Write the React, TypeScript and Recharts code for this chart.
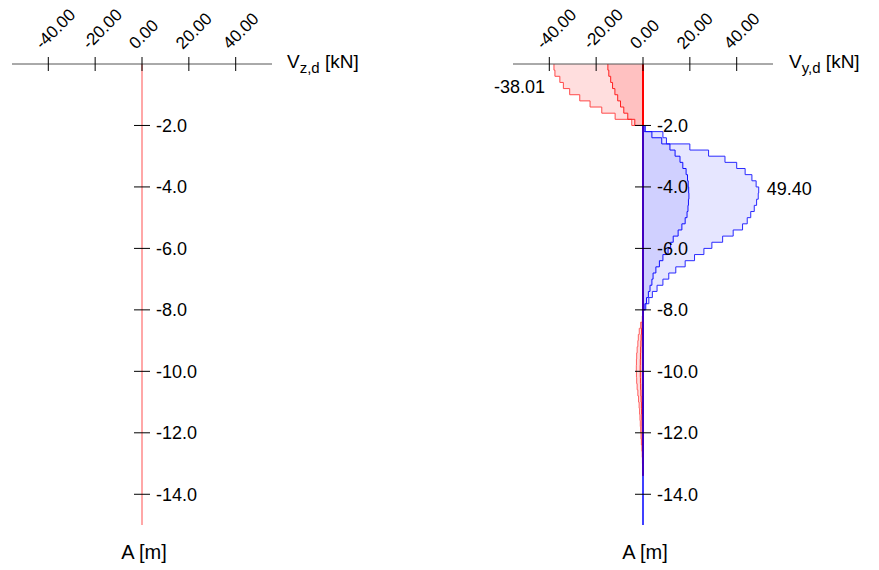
import { ComposedChart, Area, Line, XAxis, YAxis, ReferenceDot } from "recharts";

const FONT = "Arial, 'Liberation Sans', sans-serif";

// axes
const forceTicks = [-40, -20, 0, 20, 40];
const depthTicks = [-2, -4, -6, -8, -10, -12, -14];
const forceDomain = [-55.5, 55.5];
const depthDomain = [-15, 0];

// Vz,d: zero over the whole pile
const vzDepths = [0, -15];
const vzValues = [0, 0];

// Vy,d, top part (negative)
const topDepths = [0, -0.2, -0.4, -0.6, -0.8, -1.0, -1.2, -1.4, -1.6, -1.8, -2.0];
const vyMinOuterTop = [-38.01, -37.6, -35.5, -34, -31.3, -27, -22.6, -17.6, -11.9, -4.8, 0];
const vyMinInnerTop = [-15, -14.6, -13.8, -13, -12, -10.8, -9.6, -8.2, -6.5, -3.5, 0];

// Vy,d, middle part (positive)
const midDepths = [
  -2.0, -2.2, -2.4, -2.6, -2.8, -3.0, -3.2, -3.4, -3.6, -3.8, -4.0, -4.2, -4.4, -4.6, -4.8, -5.0,
  -5.2, -5.4, -5.6, -5.8, -6.0, -6.2, -6.4, -6.6, -6.8, -7.0, -7.2, -7.4, -7.6, -7.8, -8.0,
];
const vyMaxOuter = [
  1, 8.5, 10, 20, 28, 35, 40, 43.6, 46.5, 48.3, 49.4, 49.2, 48.5, 47.5, 46, 44.5,
  42.5, 38.5, 34, 29.4, 26, 22, 18, 14, 11, 8.5, 6, 4, 2.5, 1.2, 0,
];
const vyMaxInner = [
  0.5, 3.8, 8, 11.5, 13.7, 15.8, 17, 18.4, 19, 19.3, 19.5, 19.6, 19.4, 19.2, 18.8, 18,
  16.6, 15, 12.9, 11.8, 10.7, 8.5, 7, 5.5, 4.3, 3.8, 3, 2.3, 1.5, 0.8, 0,
];

// Vy,d, lower part (small negative)
const lowDepths = [
  -8.0, -8.2, -8.4, -8.6, -8.8, -9.0, -9.2, -9.4, -9.6, -9.8, -10.0, -10.2, -10.4, -10.6,
  -10.8, -11.0, -11.2, -11.4, -11.6, -11.8, -12.0, -12.2, -12.4, -12.6, -12.8, -13.0, -13.2, -13.4,
];
const vyMinOuterLow = [
  0, -0.3, -1.0, -1.6, -2.0, -2.2, -2.5, -2.7, -2.8, -2.85, -2.8, -2.7, -2.5, -2.2,
  -1.9, -1.65, -1.45, -1.3, -1.15, -1.0, -0.85, -0.7, -0.5, -0.35, -0.25, -0.15, -0.05, 0,
];
const vyMinInnerLow = [
  0, -0.1, -0.4, -0.6, -0.8, -0.9, -1.0, -1.1, -1.15, -1.2, -1.15, -1.1, -1.0, -0.9,
  -0.8, -0.7, -0.6, -0.5, -0.45, -0.4, -0.35, -0.3, -0.2, -0.15, -0.1, -0.06, -0.02, 0,
];

// toe
const bottomDepths = [-13.4, -15];

type Row = { depth: number; [k: string]: number };

function buildRows(segments: { depths: number[]; fields: Record<string, number[]> }[]) {
  const map = new Map<string, Row>();
  segments.forEach(({ depths, fields }) => {
    depths.forEach((d, i) => {
      const key = d.toFixed(1);
      const row = map.get(key) ?? { depth: d };
      Object.entries(fields).forEach(([name, vals]) => {
        row[name] = vals[i];
      });
      map.set(key, row);
    });
  });
  return [...map.values()].sort((a, b) => b.depth - a.depth);
}

const zeros = (n: number) => new Array(n).fill(0);

const vzRows = buildRows([{ depths: vzDepths, fields: { vz: vzValues } }]);

const vyRows = buildRows([
  {
    depths: topDepths,
    fields: { redOuter: vyMinOuterTop, redInner: vyMinInnerTop, baseRed: zeros(topDepths.length) },
  },
  {
    depths: midDepths,
    fields: { blueOuter: vyMaxOuter, blueInner: vyMaxInner, baseBlue: zeros(midDepths.length) },
  },
  {
    depths: lowDepths,
    fields: { redOuter2: vyMinOuterLow, redInner2: vyMinInnerLow, baseRed: zeros(lowDepths.length) },
  },
  { depths: bottomDepths, fields: { baseBlue: zeros(bottomDepths.length) } },
]);

const W = 420;
const H = 570;
const PLOT_W = 260;
const PLOT_TOP = 64;
const PLOT_BOTTOM = 525;

// axes take 1px each (an axis of size 0 is not drawn)
function marginFor(chartLeft: number, plotLeft: number) {
  const left = plotLeft - chartLeft - 1;
  return { top: PLOT_TOP - 1, bottom: H - PLOT_BOTTOM, left, right: W - left - 1 - PLOT_W };
}

function ForceTick(props: any) {
  const { x, payload } = props;
  return (
    <g>
      <line x1={x} x2={x} y1={PLOT_TOP - 7} y2={PLOT_TOP + 7} stroke="#000" />
      <text
        transform={`translate(${x - 6},${PLOT_TOP - 14}) rotate(-45)`}
        fontSize={17}
        fontFamily={FONT}
        fill="#000"
      >
        {payload.value.toFixed(2)}
      </text>
    </g>
  );
}

function makeDepthTick(cx: number) {
  return (props: any) => {
    const { y, payload } = props;
    return (
      <g>
        <line x1={cx - 8} x2={cx + 8} y1={y} y2={y} stroke="#000" />
        <text x={cx + 14} y={y} dy="0.35em" fontSize={18} fontFamily={FONT} fill="#000">
          {payload.value.toFixed(1)}
        </text>
      </g>
    );
  };
}

function Axes(cx: number) {
  return [
    <XAxis
      key="x"
      type="number"
      orientation="top"
      domain={forceDomain}
      ticks={forceTicks}
      height={1}
      axisLine={{ stroke: "#555" }}
      tickLine={false}
      tick={<ForceTick />}
      interval={0}
    />,
    <YAxis
      key="y"
      type="number"
      dataKey="depth"
      domain={depthDomain}
      ticks={depthTicks}
      width={1}
      reversed
      axisLine={false}
      tickLine={false}
      tick={makeDepthTick(cx)}
      interval={0}
    />,
  ];
}

// text beside the extreme value, placed through the chart scales
function extremeLabel(value: number, dx: number, dy: number, anchor: "start" | "end") {
  return (props: any) => {
    const vb = props.viewBox ?? {};
    const x = vb.x + (vb.width ?? 0) / 2;
    const y = vb.y + (vb.height ?? 0) / 2;
    return (
      <text x={x + dx} y={y + dy} dy="0.35em" textAnchor={anchor} fontSize={18} fontFamily={FONT} fill="#000">
        {value.toFixed(2)}
      </text>
    );
  };
}

function AxisTitle({ left, sub }: { left: number; sub: string }) {
  return (
    <div style={{ position: "absolute", left, top: 51, fontSize: 19, lineHeight: "22px", fontFamily: FONT, whiteSpace: "nowrap" }}>
      V<span style={{ fontSize: 15, position: "relative", top: 5 }}>{sub}</span> [kN]
    </div>
  );
}

function DepthTitle({ center }: { center: number }) {
  return (
    <div style={{ position: "absolute", left: center - 50, width: 100, top: 541, textAlign: "center", fontSize: 20, lineHeight: "23px", fontFamily: FONT }}>
      A [m]
    </div>
  );
}

const LEFT_CHART = 0;
const RIGHT_CHART = 440;
const leftMargin = marginFor(LEFT_CHART, 12);
const rightMargin = marginFor(RIGHT_CHART, 513);
const leftCx = leftMargin.left + 1 + PLOT_W / 2;
const rightCx = rightMargin.left + 1 + PLOT_W / 2;

const peak = Math.max(...vyMaxOuter);
const peakDepth = midDepths[vyMaxOuter.indexOf(peak)];
const trough = Math.min(...vyMinOuterTop);
const troughDepth = topDepths[vyMinOuterTop.indexOf(trough)];

export default function App() {
  return (
    <div style={{ position: "absolute", left: 0, top: 0, width: 879, height: 570, background: "#fff" }}>
      <div style={{ position: "absolute", left: LEFT_CHART, top: 0 }}>
        <ComposedChart width={W} height={H} data={vzRows} layout="vertical" margin={leftMargin}>
          {Axes(leftCx)}
          <Line dataKey="vz" type="linear" stroke="#ff5050" strokeWidth={1} dot={false} activeDot={false} isAnimationActive={false} />
        </ComposedChart>
      </div>
      <div style={{ position: "absolute", left: RIGHT_CHART, top: 0 }}>
        <ComposedChart width={W} height={H} data={vyRows} layout="vertical" margin={rightMargin}>
          {Axes(rightCx)}
          <Area dataKey="redOuter" type="stepBefore" baseValue={0} stroke="#ff4a4a" fill="#ff0000" fillOpacity={0.13} dot={false} activeDot={false} isAnimationActive={false} />
          <Area dataKey="redInner" type="stepBefore" baseValue={0} stroke="#ff2020" fill="#ff0000" fillOpacity={0.13} dot={false} activeDot={false} isAnimationActive={false} />
          <Area dataKey="blueOuter" type="stepBefore" baseValue={0} stroke="#2a2aff" fill="#3030ff" fillOpacity={0.12} dot={false} activeDot={false} isAnimationActive={false} />
          <Area dataKey="blueInner" type="stepBefore" baseValue={0} stroke="#1010ff" fill="#3030ff" fillOpacity={0.12} dot={false} activeDot={false} isAnimationActive={false} />
          <Area dataKey="redOuter2" type="stepBefore" baseValue={0} stroke="#ff6060" fill="#ff0000" fillOpacity={0.13} dot={false} activeDot={false} isAnimationActive={false} />
          <Area dataKey="redInner2" type="stepBefore" baseValue={0} stroke="#ff2020" fill="#ff0000" fillOpacity={0.13} dot={false} activeDot={false} isAnimationActive={false} />
          <Line dataKey="baseRed" type="linear" stroke="#ff0000" strokeWidth={2} dot={false} activeDot={false} isAnimationActive={false} />
          <Line dataKey="baseBlue" type="linear" stroke="#0000ff" strokeWidth={1.5} dot={false} activeDot={false} isAnimationActive={false} />
          <ReferenceDot x={trough} y={troughDepth} r={1} fill="none" stroke="none" ifOverflow="visible"
            label={extremeLabel(trough, -9, 23, "end")} />
          <ReferenceDot x={peak} y={peakDepth} r={1} fill="none" stroke="none" ifOverflow="visible"
            label={extremeLabel(peak, 8, 2, "start")} />
        </ComposedChart>
      </div>
      <AxisTitle left={287} sub="z,d" />
      <AxisTitle left={789} sub="y,d" />
      <DepthTitle center={144} />
      <DepthTitle center={645} />
    </div>
  );
}
